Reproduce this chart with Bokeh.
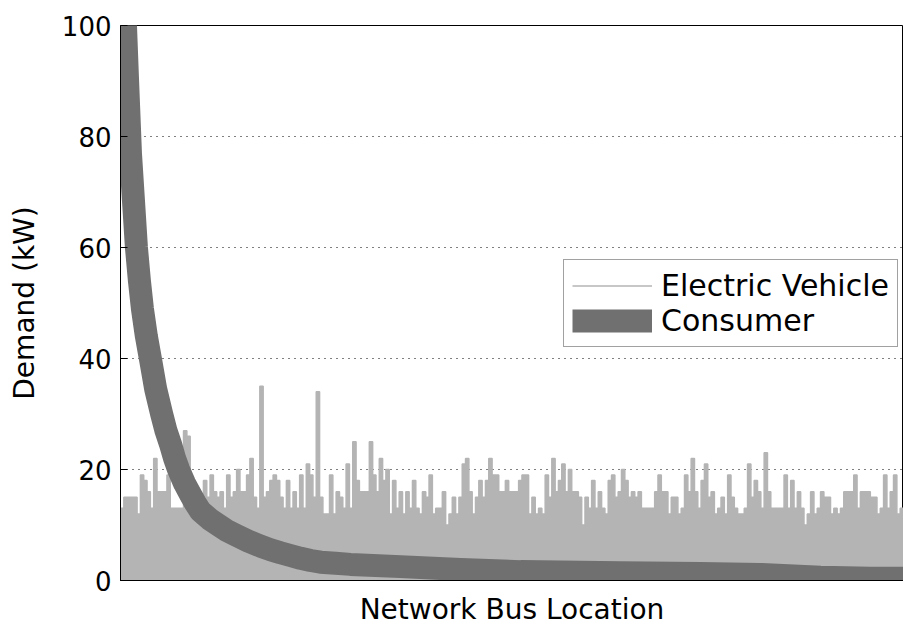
import numpy as np
from bokeh.plotting import figure
from bokeh.models import FixedTicker, Legend, LegendItem, Range1d
from bokeh.embed import file_html
from bokeh.resources import INLINE

# Electric vehicle demand per bus (kW), read left to right
ev_demand = [
    13, 15, 15, 15, 15, 12, 19, 18, 16, 13,
    22, 16, 16, 16, 19, 13, 13, 13, 13, 27,
    26, 15, 16, 13, 15, 18, 15, 19, 16, 15,
    16, 13, 19, 15, 16, 20, 16, 16, 19, 22,
    15, 13, 35, 15, 16, 18, 19, 18, 15, 13,
    18, 13, 16, 13, 19, 13, 21, 19, 15, 34,
    15, 12, 12, 19, 12, 16, 15, 13, 21, 13,
    25, 18, 16, 16, 16, 25, 19, 16, 22,
    18, 20, 12, 18, 13, 16, 12, 16, 13, 18,
    13, 12, 16, 15, 19, 12, 13, 13, 16, 10,
    12, 15, 12, 15, 21, 22, 16, 12, 15, 18,
    15, 18, 22, 19, 19, 16, 16, 18, 16, 16,
    16, 18, 19, 19, 12, 15, 12, 13, 12, 19,
    15, 22, 16, 18, 21, 16, 20, 16, 16, 15,
    10, 15, 13, 18, 13, 16, 13, 12, 18, 19,
    15, 16, 20, 18, 15, 16, 15, 16, 13,
    13, 13, 13, 16, 19, 16, 16, 12, 15, 15,
    12, 13, 19, 16, 22, 16, 13, 18, 21, 15,
    16, 12, 13, 15, 12, 19, 15, 13, 12, 12,
    13, 21, 15, 18, 16, 13, 23, 16, 13, 13,
    13, 13, 19, 13, 18, 13, 16, 13, 10, 12,
    16, 12, 13, 16, 15, 15, 12, 13, 12, 13,
    16, 16, 16, 19, 13, 16, 16, 16, 15, 15,
    12, 13, 19, 13, 16, 19, 12, 13,
]

# Consumer demand (kW), sorted curve along the bus index
consumer_bus = [0, 1.5, 2.1, 3.0, 3.9, 4.8, 5.7, 6.6, 7.8, 9.0, 10.6, 12.4,
                13.7, 15.1, 16.3, 17.5, 19.3, 21.1, 22.6, 24.1, 26.8, 29.5,
                32.0, 34.7, 38.5, 42.2, 45.2, 48.2, 51.2, 54.3, 57.3, 60.3,
                64.8, 69.3, 84.4, 102.5, 120.6, 150.7, 174.8, 192.9, 211.0,
                226.0, 236.0]
consumer_demand = [124, 100, 90.6, 77, 68.5, 60, 54, 49, 44, 40, 34.5, 30,
                   27, 24.5, 22, 20, 17.5, 15.5, 13.9, 12.5, 11.1, 10,
                   9.0, 8.2, 7.1, 6.2, 5.55, 5.0, 4.5, 4.0, 3.6, 3.3,
                   3.1, 2.9, 2.5, 2.0, 1.6, 1.4, 1.25, 1.1, 0.6,
                   0.4, 0.4]

y_ticks = [0, 20, 40, 60, 80, 100]

FONT = "DejaVu Sans"
EV_COLOR = "#b4b4b4"
CONS_COLOR = "#707070"

n_bus = len(ev_demand)
p = figure(width=903, height=628, output_backend="svg", toolbar_location=None,
           x_range=Range1d(0, n_bus), y_range=Range1d(0, 100),
           min_border_left=120, min_border_right=0, min_border_top=25,
           min_border_bottom=48)

p.background_fill_color = "white"
p.border_fill_color = "white"
p.outline_line_color = "black"
p.outline_line_width = 1

edges = np.arange(n_bus + 1)
ev_y = list(ev_demand) + [ev_demand[-1]]
p.varea_step(x=edges, y1=np.zeros(n_bus + 1), y2=ev_y, step_mode="after",
             fill_color=EV_COLOR)
ev_line = p.step(x=edges, y=ev_y, mode="after", line_color=EV_COLOR, line_width=1.5)

cons_line = p.line(x=consumer_bus, y=consumer_demand, line_color=CONS_COLOR,
                   line_width=23, line_join="round")

# axes
p.xaxis.ticker = FixedTicker(ticks=[])
p.xaxis.major_tick_in = 0
p.xaxis.major_tick_out = 0
p.xaxis.minor_tick_line_color = None
p.xaxis.axis_label = "Network Bus Location"
p.xaxis.axis_label_standoff = 12

p.yaxis.ticker = FixedTicker(ticks=y_ticks)
p.yaxis.major_tick_in = 7
p.yaxis.major_tick_out = 0
p.yaxis.minor_tick_line_color = None
p.yaxis.major_label_standoff = 9
p.yaxis.axis_label = "Demand (kW)"
p.yaxis.axis_label_standoff = 18

for ax in (p.xaxis[0], p.yaxis[0]):
    ax.axis_line_color = "black"
    ax.major_tick_line_color = "black"
    ax.major_label_text_font = FONT
    ax.major_label_text_font_size = "26px"
    ax.major_label_text_color = "black"
    ax.axis_label_text_font = FONT
    ax.axis_label_text_font_size = "28px"
    ax.axis_label_text_font_style = "normal"
    ax.axis_label_text_color = "black"

p.xgrid.visible = False
p.ygrid.grid_line_color = "black"
p.ygrid.grid_line_dash = "1 5"
p.ygrid.grid_line_width = 1

legend = Legend(items=[LegendItem(label="Electric Vehicle", renderers=[ev_line]),
                       LegendItem(label="Consumer", renderers=[cons_line])],
                location=(443, 233))
legend.label_text_font = FONT
legend.label_text_font_size = "30px"
legend.label_text_color = "black"
legend.glyph_width = 80
legend.glyph_height = 31
legend.label_height = 31
legend.label_standoff = 9
legend.padding = 8
legend.spacing = 0
legend.margin = 0
legend.border_line_color = "#444444"
legend.border_line_width = 1
legend.background_fill_color = "white"
legend.background_fill_alpha = 1
p.add_layout(legend)

open("out.html", "w").write(file_html(p, INLINE))
